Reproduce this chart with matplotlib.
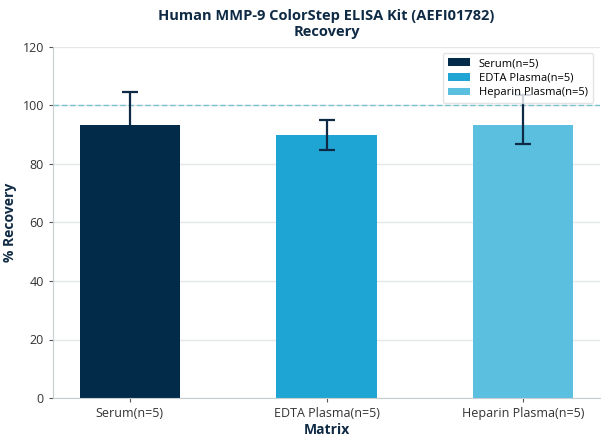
import matplotlib
matplotlib.use("Agg")
import matplotlib.pyplot as plt

categories = ["Serum(n=5)", "EDTA Plasma(n=5)", "Heparin Plasma(n=5)"]
recovery = [93.5, 89.8, 93.5]
err_low = [11.2, 5.1, 6.6]
err_high = [11.2, 5.1, 10.0]
colors = ["#022b4a", "#1fa5d3", "#5bbfe0"]
yticks = [0, 20, 40, 60, 80, 100, 120]
err_z = [1.5, 3, 3]

plt.rcParams['font.family'] = ['Open Sans', 'DejaVu Sans']

fig = plt.figure(figsize=(6.08, 4.44), dpi=100)
ax = fig.add_axes([53/608, 1-398/444, (600-53)/608, (398-47)/444])

x = list(range(len(categories)))
for i in x:
    ax.bar(i, recovery[i], width=0.51, color=colors[i], label=categories[i], zorder=2)
    ax.errorbar(i, recovery[i], yerr=[[err_low[i]], [err_high[i]]], fmt='none',
                ecolor='#0f2a44', elinewidth=1.6, capsize=6, capthick=1.6, zorder=err_z[i])

ax.axhline(100, color='#7cc3cf', linestyle=(0, (4, 2)), linewidth=1, zorder=1)
ax.set_xlim(-0.39, 2.39)
ax.set_ylim(0, 120)
ax.set_yticks(yticks)
ax.set_xticks(x)
ax.set_xticklabels(categories)
ax.yaxis.grid(True, color='#e3e7ea', linewidth=1, zorder=0)
ax.set_axisbelow(True)
for s in ['top', 'right']:
    ax.spines[s].set_visible(False)
for s in ['left', 'bottom']:
    ax.spines[s].set_color('#c8cdd2')
ax.tick_params(colors='#333333', labelsize=9, length=3)
ax.tick_params(axis='both', color='#555555')

ax.set_xlabel("Matrix", fontsize=10, fontweight='bold', color='#0f2a44', labelpad=2)
ax.set_ylabel("% Recovery", fontsize=10, fontweight='bold', color='#0f2a44', labelpad=4)
ax.set_title("Human MMP-9 ColorStep ELISA Kit (AEFI01782)\nRecovery", fontsize=10.5,
             fontweight='bold', color='#0f2a44', pad=8, linespacing=1.2)

leg = ax.legend(loc='upper right', fontsize=8, frameon=True, fancybox=True,
                bbox_to_anchor=(0.997, 0.998), handlelength=2.0, borderpad=0.45,
                labelspacing=0.32)
leg.get_frame().set_edgecolor('#dddddd')
leg.set_zorder(5)

fig.savefig("out.png", dpi=100)
